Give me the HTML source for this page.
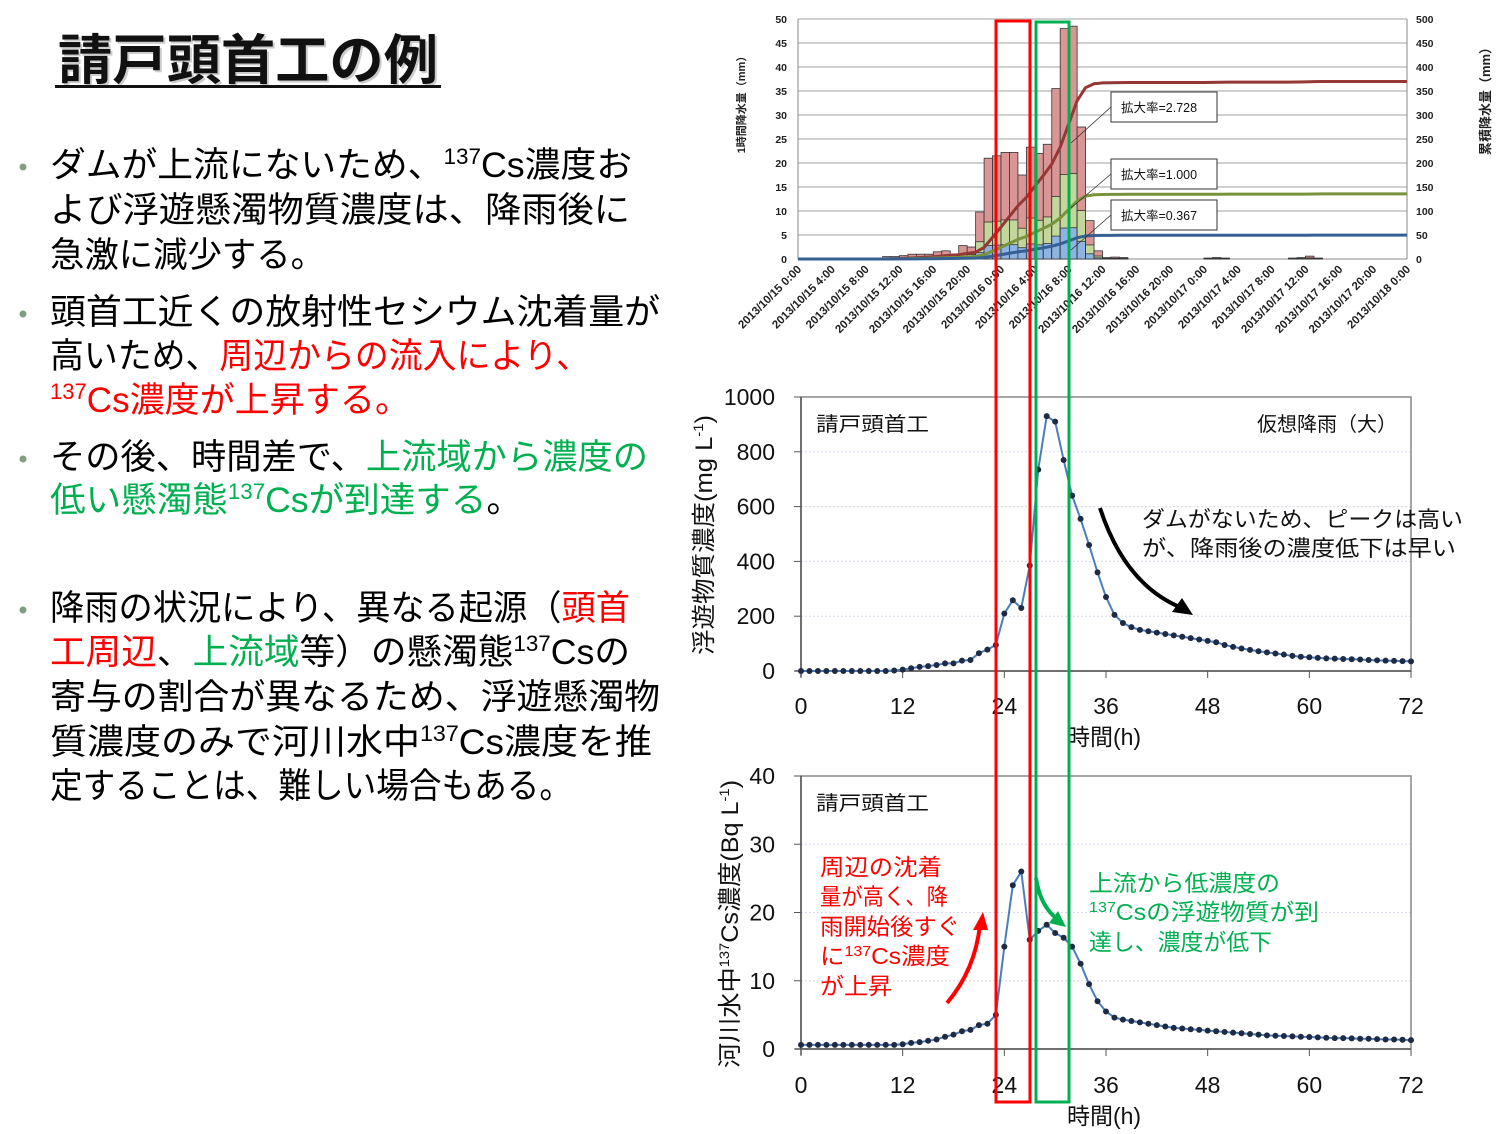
<!DOCTYPE html>
<html><head><meta charset="utf-8">
<style>
html,body{margin:0;padding:0;background:#fff;}
svg{display:block;}
text{font-family:"Liberation Sans","Noto Sans CJK JP",sans-serif;}
</style></head>
<body>
<svg id="s" width="1508" height="1134" viewBox="0 0 1508 1134" xmlns="http://www.w3.org/2000/svg">
<text x="58" y="79" font-size="54" font-weight="bold" fill="#ccc" transform="translate(2,2)" textLength="380" lengthAdjust="spacingAndGlyphs">請戸頭首工の例</text>
<text x="58" y="79" font-size="54" font-weight="bold" fill="#111" textLength="380" lengthAdjust="spacingAndGlyphs">請戸頭首工の例</text>
<rect x="55" y="85" width="386" height="3" fill="#111"/>
<g fill="#7f9f7f">
<circle cx="23" cy="167" r="3.5"/><circle cx="23" cy="314" r="3.5"/><circle cx="23" cy="459" r="3.5"/><circle cx="23" cy="610" r="3.5"/>
</g>
<g font-size="35" fill="#000">
<text x="50" y="177" textLength="582" lengthAdjust="spacingAndGlyphs">ダムが上流にないため、<tspan font-size="22" dy="-13">137</tspan><tspan dy="13">Cs濃度お</tspan></text>
<text x="50" y="222" textLength="580" lengthAdjust="spacingAndGlyphs">よび浮遊懸濁物質濃度は、降雨後に</text>
<text x="50" y="267" textLength="275" lengthAdjust="spacingAndGlyphs">急激に減少する。</text>
<text x="50" y="324" textLength="610" lengthAdjust="spacingAndGlyphs">頭首工近くの放射性セシウム沈着量が</text>
<text x="50" y="368" textLength="540" lengthAdjust="spacingAndGlyphs">高いため、<tspan fill="#ff0000">周辺からの流入により、</tspan></text>
<text x="50" y="412" textLength="360" lengthAdjust="spacingAndGlyphs" fill="#ff0000"><tspan font-size="22" dy="-13">137</tspan><tspan dy="13">Cs濃度が上昇する。</tspan></text>
<text x="50" y="469" textLength="598" lengthAdjust="spacingAndGlyphs">その後、時間差で、<tspan fill="#00b050">上流域から濃度の</tspan></text>
<text x="50" y="512" textLength="472" lengthAdjust="spacingAndGlyphs"><tspan fill="#00b050">低い懸濁態<tspan font-size="22" dy="-13">137</tspan><tspan dy="13">Csが到達する</tspan></tspan>。</text>
<text x="50" y="620" textLength="580" lengthAdjust="spacingAndGlyphs">降雨の状況により、異なる起源（<tspan fill="#ff0000">頭首</tspan></text>
<text x="50" y="664" textLength="580" lengthAdjust="spacingAndGlyphs"><tspan fill="#ff0000">工周辺</tspan>、<tspan fill="#00b050">上流域</tspan>等）の懸濁態<tspan font-size="22" dy="-13">137</tspan><tspan dy="13">Csの</tspan></text>
<text x="50" y="709" textLength="610" lengthAdjust="spacingAndGlyphs">寄与の割合が異なるため、浮遊懸濁物</text>
<text x="50" y="754" textLength="602" lengthAdjust="spacingAndGlyphs">質濃度のみで河川水中<tspan font-size="22" dy="-13">137</tspan><tspan dy="13">Cs濃度を推</tspan></text>
<text x="50" y="798" textLength="522" lengthAdjust="spacingAndGlyphs">定することは、難しい場合もある。</text>
</g>
<g id="charts"></g>
</svg>
<script>
const G=document.getElementById('charts');
let out="";
function T(x,y,s,fs,anchor,extra){out+=`<text x="${x}" y="${y}" font-size="${fs}" text-anchor="${anchor||'start'}" ${extra||''}>${s}</text>`;}
const tx=h=>798+h*(1407-798)/72, ty=v=>259-v*4.8, tc=v=>259-v*0.48;
for(let v=5;v<=50;v+=5) out+=`<line x1="798" x2="1407" y1="${ty(v)}" y2="${ty(v)}" stroke="#c0c0c0" stroke-width="1.5"/>`;
out+=`<line x1="798" x2="798" y1="19" y2="259" stroke="#888"/><line x1="1407" x2="1407" y1="19" y2="259" stroke="#888"/><line x1="798" x2="1407" y1="259" y2="259" stroke="#888"/>`;
for(let v=0;v<=50;v+=5){T(787,ty(v)+4,v,10.5,'end','font-weight="bold" fill="#222"');T(1416,ty(v)+4,v*10,10.5,'start','font-weight="bold" fill="#222"');}
const bars={10:0.5,11:0.5,12:0.7,13:1,14:1,15:1,16:1.5,17:1.7,18:1,19:2.8,20:2.5,21:9.8,22:21,23:21.5,24:22.2,25:22.2,26:17.5,27:23.3,28:22,29:23.9,30:35.5,31:48,32:48.5,33:27.5,34:8,35:1.7,36:0.3,37:0.4,38:0.3,48:0.2,49:0.3,50:0.2,58:0.2,59:0.3,60:0.6,61:0.2};
const bw=(1407-798)/72;
for(const k in bars){const h=+k,v=bars[k];const x=tx(h);
 const g=v/2.728,b=g/2.728;
 out+=`<rect x="${x}" y="${ty(v)}" width="${bw}" height="${v*4.8}" fill="#da9694" stroke="#333" stroke-width="0.8"/>`;
 out+=`<rect x="${x}" y="${ty(g)}" width="${bw}" height="${g*4.8}" fill="#c3d69b" stroke="#333" stroke-width="0.8"/>`;
 out+=`<rect x="${x}" y="${ty(b)}" width="${bw}" height="${b*4.8}" fill="#8db4e2" stroke="#333" stroke-width="0.8"/>`;}
let cum=[0],c=0;for(let h=0;h<72;h++){c+=(bars[h]||0);cum.push(c);}
function cl(f,col){let p=[];for(let h=0;h<=72;h++)p.push(tx(h)+','+tc(cum[h]*f));out+=`<polyline points="${p.join(' ')}" fill="none" stroke="${col}" stroke-width="3" stroke-linejoin="round"/>`;}
cl(1,'#953735');cl(1/2.728,'#77933c');cl(1/2.728/2.728,'#376092');
[[92,'2.728',143],[159,'1.000',208],[200,'0.367',250]].forEach(a=>{
 out+=`<line x1="1111" y1="${a[0]+15}" x2="1071" y2="${a[2]}" stroke="#333" stroke-width="0.8"/>`;
 out+=`<rect x="1111" y="${a[0]}" width="106" height="30" fill="#fff" stroke="#333"/>`;
 T(1121,a[0]+20,'拡大率='+a[1],12.5,'start','fill="#111"');});
const dl=['15 0:00','15 4:00','15 8:00','15 12:00','15 16:00','15 20:00','16 0:00','16 4:00','16 8:00','16 12:00','16 16:00','16 20:00','17 0:00','17 4:00','17 8:00','17 12:00','17 16:00','17 20:00','18 0:00'];
dl.forEach((d,i)=>{const x=tx(i*4)+4,y=270;out+=`<text x="${x}" y="${y}" font-size="11.5" font-weight="bold" fill="#222" text-anchor="end" transform="rotate(-45 ${x} ${y})">2013/10/${d}</text>`;});
out+=`<text x="745" y="102" font-size="11" font-weight="bold" fill="#222" text-anchor="middle" transform="rotate(-90 745 102)">1時間降水量（mm）</text>`;
out+=`<text x="1490" y="98" font-size="13" font-weight="bold" fill="#222" text-anchor="middle" transform="rotate(-90 1490 98)">累積降水量（mm）</text>`;
const mx=h=>801+h*(1411-801)/72, my=v=>671-v*0.274;
for(let v=200;v<=800;v+=200) out+=`<line x1="801" x2="1411" y1="${my(v)}" y2="${my(v)}" stroke="#d8d8e8" stroke-dasharray="2,2"/>`;
out+=`<rect x="801" y="397" width="610" height="274" fill="none" stroke="#888" stroke-width="1.5"/>`;
out+=`<line x1="801" x2="801" y1="397" y2="677" stroke="#555" stroke-width="1.5"/><line x1="795" x2="1411" y1="671" y2="671" stroke="#555" stroke-width="1.5"/>`;
for(let v=0;v<=1000;v+=200){out+=`<line x1="794" x2="801" y1="${my(v)}" y2="${my(v)}" stroke="#555"/>`;T(775,my(v)+8,v,23,'end','fill="#111"');}
for(let h=0;h<=72;h+=12){out+=`<line x1="${mx(h)}" x2="${mx(h)}" y1="671" y2="678" stroke="#555"/>`;T(mx(h),714,h,23,'middle','fill="#111"');}
T(1104,745,'時間(h)',23,'middle','fill="#111"');
out+=`<text x="712" y="535" font-size="24" fill="#111" text-anchor="middle" transform="rotate(-90 712 535)" textLength="240" lengthAdjust="spacingAndGlyphs">浮遊物質濃度(mg L<tspan font-size="14" dy="-9">-1</tspan><tspan dy="9">)</tspan></text>`;
const md=[0,0,0,0,0,0,0,0,0,0,0,2,5,10,15,18,22,28,28,38,40,65,78,95,210,258,230,385,735,930,910,770,640,555,460,360,270,205,175,160,150,145,140,135,130,125,120,115,110,105,95,88,82,77,72,68,64,60,55,52,50,48,46,45,44,43,42,40,39,38,37,36,35];
out+=`<polyline points="${md.map((v,h)=>mx(h)+','+my(v)).join(' ')}" fill="none" stroke="#4a7ebb" stroke-width="2"/>`;
md.forEach((v,h)=>out+=`<circle cx="${mx(h)}" cy="${my(v)}" r="3" fill="#1f2a44"/>`);
T(816,431,'請戸頭首工',20,'start','fill="#111" textLength="113" lengthAdjust="spacingAndGlyphs"');
T(1397,431,'仮想降雨（大）',20,'end','fill="#111"');
T(1142,527,'ダムがないため、ピークは高い',22,'start','fill="#111" textLength="321" lengthAdjust="spacingAndGlyphs"');
T(1142,556,'が、降雨後の濃度低下は早い',22,'start','fill="#111" textLength="314" lengthAdjust="spacingAndGlyphs"');
out+=`<path d="M1100,508 Q1125,585 1182,608" fill="none" stroke="#000" stroke-width="4"/><polygon points="1193,615 1172,612 1182,598" fill="#000"/>`;
const bx=mx, by=v=>1049-v*6.825;
for(let v=10;v<=30;v+=10) out+=`<line x1="801" x2="1411" y1="${by(v)}" y2="${by(v)}" stroke="#d8d8e8" stroke-dasharray="2,2"/>`;
out+=`<rect x="801" y="776" width="610" height="273" fill="none" stroke="#888" stroke-width="1.5"/>`;
out+=`<line x1="801" x2="801" y1="776" y2="1055" stroke="#555" stroke-width="1.5"/><line x1="795" x2="1411" y1="1049" y2="1049" stroke="#555" stroke-width="1.5"/>`;
for(let v=0;v<=40;v+=10){out+=`<line x1="794" x2="801" y1="${by(v)}" y2="${by(v)}" stroke="#555"/>`;T(775,by(v)+8,v,23,'end','fill="#111"');}
for(let h=0;h<=72;h+=12){out+=`<line x1="${bx(h)}" x2="${bx(h)}" y1="1049" y2="1056" stroke="#555"/>`;T(bx(h),1093,h,23,'middle','fill="#111"');}
T(1104,1124,'時間(h)',23,'middle','fill="#111"');
out+=`<text x="738" y="924" font-size="24" fill="#111" text-anchor="middle" transform="rotate(-90 738 924)" textLength="288" lengthAdjust="spacingAndGlyphs">河川水中<tspan font-size="14" dy="-9">137</tspan><tspan dy="9">Cs濃度(Bq L</tspan><tspan font-size="14" dy="-9">-1</tspan><tspan dy="9">)</tspan></text>`;
const bd=[0.6,0.6,0.6,0.6,0.6,0.6,0.6,0.6,0.6,0.6,0.6,0.6,0.7,0.9,1.0,1.2,1.4,1.8,2.1,2.6,2.8,3.5,3.7,5,15,24,26,16,17.3,18.2,17,16.3,15,12.5,9.5,7,5.5,4.6,4.3,4.1,3.9,3.7,3.5,3.3,3.1,3.0,2.9,2.8,2.7,2.6,2.5,2.4,2.3,2.2,2.1,2.0,1.95,1.9,1.85,1.8,1.75,1.7,1.65,1.6,1.6,1.55,1.5,1.5,1.45,1.4,1.4,1.35,1.3];
while(bd.length>73) bd.splice(11,1);
out+=`<polyline points="${bd.map((v,h)=>bx(h)+','+by(v)).join(' ')}" fill="none" stroke="#4a7ebb" stroke-width="2"/>`;
bd.forEach((v,h)=>out+=`<circle cx="${bx(h)}" cy="${by(v)}" r="3" fill="#1f2a44"/>`);
T(816,810,'請戸頭首工',20,'start','fill="#111" textLength="113" lengthAdjust="spacingAndGlyphs"');
[['周辺の沈着',122],['量が高く、降',128],['雨開始後すぐ',140],null,['が上昇',72]].forEach((s,i)=>{if(s)T(820,875+i*29.7,s[0],23,'start',`fill="#ff0000" textLength="${s[1]}" lengthAdjust="spacingAndGlyphs"`);});
out+=`<text x="820" y="964" font-size="23" fill="#ff0000" textLength="130" lengthAdjust="spacingAndGlyphs">に<tspan font-size="15" dy="-8">137</tspan><tspan dy="8">Cs濃度</tspan></text>`;
out+=`<path d="M947,1003 Q975,970 980,925" fill="none" stroke="#ff0000" stroke-width="4"/><polygon points="983,912 973,930 988,930" fill="#ff0000"/>`;
T(1089,891,'上流から低濃度の',23,'start','fill="#00b050" textLength="191" lengthAdjust="spacingAndGlyphs"');
out+=`<text x="1089" y="920" font-size="23" fill="#00b050" textLength="230" lengthAdjust="spacingAndGlyphs"><tspan font-size="15" dy="-8">137</tspan><tspan dy="8">Csの浮遊物質が到</tspan></text>`;
T(1089,950,'達し、濃度が低下',23,'start','fill="#00b050" textLength="183" lengthAdjust="spacingAndGlyphs"');
out+=`<path d="M1036,878 Q1040,905 1056,918" fill="none" stroke="#00b050" stroke-width="4"/><polygon points="1066,927 1049,923 1058,911" fill="#00b050"/>`;
out+=`<rect x="996" y="21" width="34" height="1081" fill="none" stroke="#ff0000" stroke-width="3"/>`;
out+=`<rect x="1036" y="22" width="33" height="1080" fill="none" stroke="#00b050" stroke-width="3"/>`;
G.innerHTML=out;
</script>
</body></html>
